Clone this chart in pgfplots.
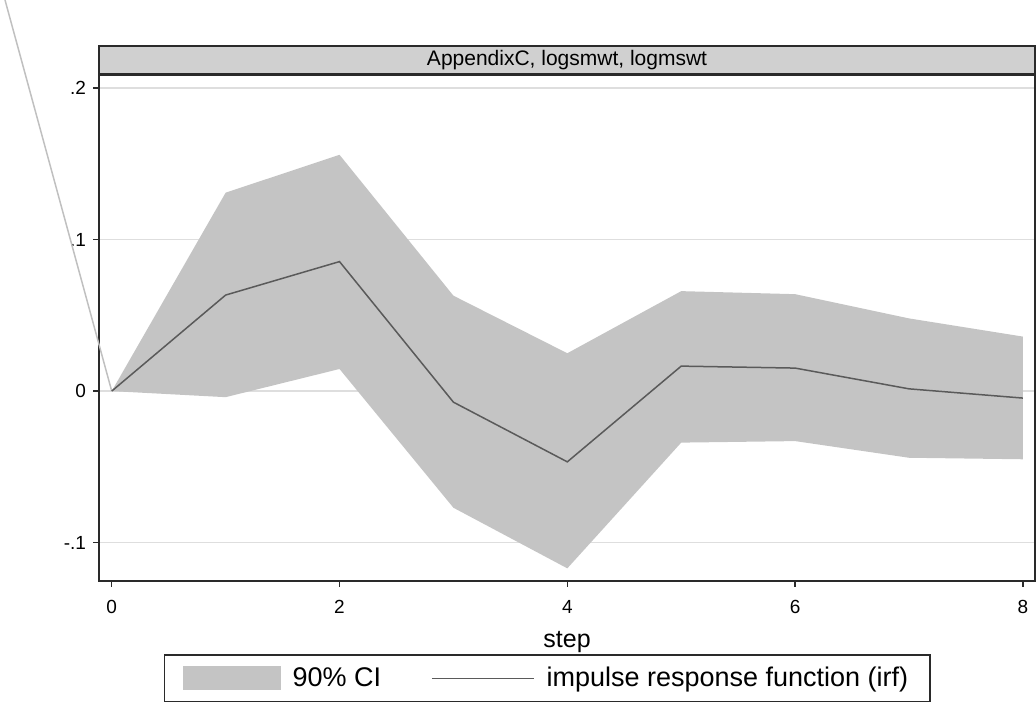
\documentclass[border=0pt]{standalone}
\usepackage{pgfplots}
\pgfplotsset{compat=1.18}
\usepackage{fontspec}
\setmainfont{Liberation Sans}
\definecolor{cigray}{HTML}{C4C4C4}
\definecolor{irfgray}{HTML}{5A5A5A}
\definecolor{stripgray}{HTML}{D0D0D0}
\definecolor{framec}{HTML}{2A2A2A}
\definecolor{gridc}{HTML}{DEDEDE}
\definecolor{outc}{HTML}{C0C0C0}
\begin{document}
\begin{tikzpicture}
\begin{axis}[
 scale only axis, width=468pt, height=253pt,
 xmin=-0.111, xmax=8.106, ymin=-0.1253, ymax=0.2087,
 clip=false,
 axis line style={framec, line width=0.85pt},
 xtick={0,2,4,6,8}, xticklabels={0,2,4,6,8},
 ytick={-0.1,0,0.1,0.2}, yticklabels={-.1,0,.1,.2},
 tick align=outside, xtick pos=bottom, ytick pos=left,
 major tick length=3pt,
 tick style={framec, line width=0.7pt},
 ymajorgrids, grid style={gridc, line width=0.7pt},
 ticklabel style={font=\fontsize{9.5}{11}\selectfont},
 xticklabel style={yshift=-3pt},
 every axis title shift=0pt,
 title={AppendixC, logsmwt, logmswt},
 title style={at={(0.5,1)}, anchor=south, yshift=0pt, fill=stripgray, draw=framec, line width=0.85pt, minimum width=468pt, minimum height=14pt, inner sep=0pt, font=\fontsize{10.5}{12}\selectfont},
 xlabel={step},
 xlabel style={font=\fontsize{12.5}{14}\selectfont, yshift=-2pt},
 legend style={at={(0.479,-0.1927)}, anchor=center, draw=framec, line width=0.7pt, font=\fontsize{13.5}{15}\selectfont, inner xsep=9pt, inner ysep=4pt,
   /tikz/every even column/.append style={column sep=23pt},
   /tikz/every odd column/.append style={column sep=4pt}},
 legend columns=2,
 legend cell align=left,
]
\addplot[outc, line width=0.75pt, forget plot] coordinates {(0,0) (-0.937,0.2582)};
\addplot[fill=cigray, draw=none,
  legend image code/.code={\fill[cigray] (0pt,-6pt) rectangle (49pt,6pt);}]
 coordinates {
 (0,0) (1,0.131) (2,0.156) (3,0.063) (4,0.025) (5,0.066) (6,0.064) (7,0.048) (8,0.036)
 (8,-0.045) (7,-0.044) (6,-0.033) (5,-0.034) (4,-0.117) (3,-0.077) (2,0.0146) (1,-0.004) (0,0)
 } -- cycle;
\addlegendentry{90\% CI}
\addplot[irfgray, line width=0.75pt,
  legend image code/.code={\draw[irfgray, line width=0.75pt] (0pt,0pt) -- (51pt,0pt);}]
 coordinates {
 (0,0) (1,0.0634) (2,0.0855) (3,-0.0073) (4,-0.0467) (5,0.0165) (6,0.0152) (7,0.0015) (8,-0.0046)
 };
\addlegendentry{impulse response function (irf)}
\coordinate (BBbl) at (axis cs:-0.981,-0.2131);
\coordinate (BBtr) at (axis cs:8.115,0.2582);
\end{axis}
\pgfresetboundingbox
\path (BBbl) rectangle (BBtr);
\end{tikzpicture}
\end{document}
